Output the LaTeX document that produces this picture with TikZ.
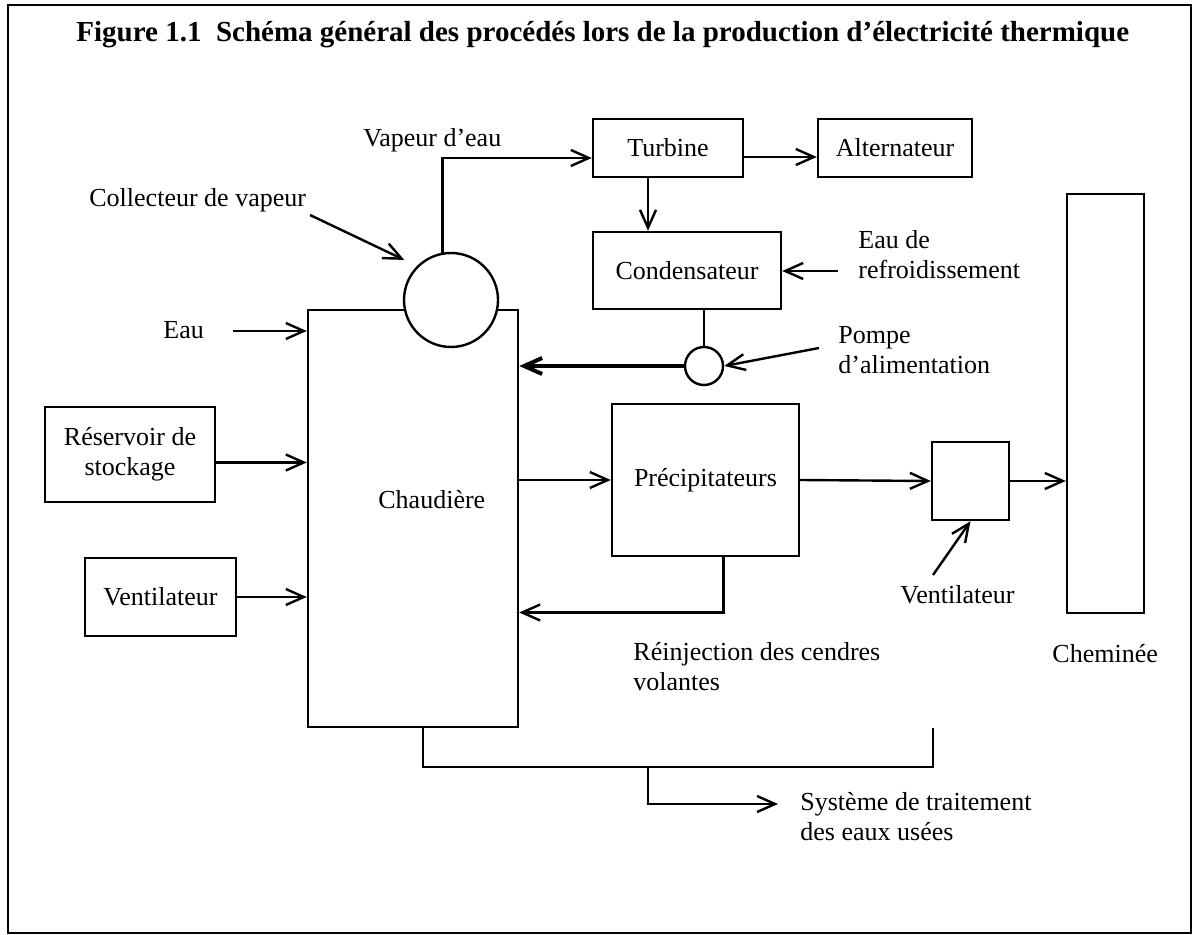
\documentclass[tikz,border=0pt]{standalone}
\usepackage{fontspec}
\setmainfont{Liberation Serif}
\usetikzlibrary{arrows.meta}
\tikzset{
  procbox/.style={draw, line width=1.2pt, inner sep=0pt, align=center,
                  font=\fontsize{13}{15}\selectfont},
  drum/.style={draw, circle, fill=white, line width=1.2pt, inner sep=0pt},
  note/.style={inner sep=0pt, align=left, font=\fontsize{13}{15}\selectfont},
  pipe/.style={line width=1.2pt},
  flow/.style={pipe, -{Straight Barb[length=9pt,width=8pt]}},
  heavyflow/.style={flow, line width=2pt},
}

\begin{document}
\begin{tikzpicture}[x=0.5pt, y=-0.5pt]
    \useasboundingbox (0,0) rectangle (1193,935);
    \draw[line width=0.6pt] (8,5) rectangle (1191,933);
    \node[anchor=base west, inner sep=0pt, font=\bfseries\fontsize{14.5}{16}\selectfont] (title) at (76,42)
      {Figure 1.1\ \ Schéma général des procédés lors de la production d’électricité thermique};

    \node[procbox, minimum width=75pt, minimum height=29pt] (turb) at (668,148) {Turbine};
    \node[procbox, minimum width=77pt, minimum height=29pt] (alt) at (895,148) {Alternateur};
    \node[procbox, minimum width=94pt, minimum height=38.5pt] (cond) at (687,270.5) {Condensateur};
    \node[procbox, minimum width=105pt, minimum height=208.5pt] (boil) at (413,518.5) {};
    \node[drum, minimum size=47pt] (coll) at (451,300) {};
    \node[drum, minimum size=19pt] (pump) at (704,366) {};
    \node[procbox, minimum width=85pt, minimum height=47.5pt] (res) at (130,454.5) {Réservoir de\\stockage};
    \node[procbox, minimum width=75.5pt, minimum height=39pt] (vent) at (160.5,597) {Ventilateur};
    \node[procbox, minimum width=93.5pt, minimum height=76pt] (prec) at (705.5,480) {Précipitateurs};
    \node[procbox, minimum width=38.5pt, minimum height=39pt] (fan) at (970.5,481) {};
    \node[procbox, minimum width=38.5pt, minimum height=209.5pt] (chem) at (1105.5,403.5) {};

    \node[note, anchor=base west] (boiltxt) at (378,508) {Chaudière};
    \node[note, anchor=base west] (vap) at (363,147) {Vapeur d’eau};
    \node[note, anchor=base west] (colltxt) at (89,207) {Collecteur de vapeur};
    \node[note, anchor=base west] (eau) at (163,339) {Eau};
    \node[note, anchor=north west] (cool) at (858,230) {Eau de\\refroidissement};
    \node[note, anchor=north west] (pumptxt) at (838,326) {Pompe\\d’alimentation};
    \node[note, anchor=base west] (fantxt) at (900,603) {Ventilateur};
    \node[note, anchor=base west] (chemtxt) at (1052,662) {Cheminée};
    \node[note, anchor=north west] (ash) at (633,642) {Réinjection des cendres\\volantes};
    \node[note, anchor=north west] (waste) at (800,792) {Système de traitement\\des eaux usées};

    \coordinate (ca) at (310,215);
    \coordinate (ea) at (233,331);
    \coordinate (cw) at (838,271);
    \coordinate (pa) at (819,348);
    \coordinate (fa) at (933,575);
    \coordinate (t0) at ([xshift=-10pt]turb.south);
    \coordinate (r0) at ([yshift=-4pt]res.east);
    \coordinate (p0) at ([xshift=9pt]prec.south);
    \coordinate (b0) at ([xshift=5pt]boil.south);
    \coordinate (j0) at (648,767);
    \coordinate (b1) at (933,728);
    \coordinate (ww) at (778,804);

    \draw[flow] (coll.100) |- ([yshift=-5pt]turb.west);
    \draw[flow] ([yshift=-4.5pt]turb.east) -- ([yshift=-4.5pt]alt.west);
    \draw[flow] (t0) -- (t0 |- cond.north);
    \draw[flow] (cw) -- (cw -| cond.east);
    \draw[pipe] (pump.north) -- (pump.north |- cond.south);
    \draw[heavyflow] (pump.west) -- (pump.west -| boil.east);
    \draw[flow] (pa) -- (pump.east);
    \draw[flow, shorten >=7pt] (ca) -- (coll.135);
    \draw[flow] (ea) -- (ea -| boil.west);
    \draw[flow] (r0) -- (r0 -| boil.west);
    \draw[flow] (vent.east) -- (vent.east -| boil.west);
    \draw[flow] (prec.west -| boil.east) -- (prec.west);
    \draw[flow] (p0) |- ([yshift=-47pt]boil.east);
    \draw[flow] (prec.east) -- (fan.west);
    \draw[flow] (fan.east) -- (fan.east -| chem.west);
    \draw[flow] (fa) -- (fan.south);
    \draw[pipe] (b0) |- (j0) -| (b1);
    \draw[flow] (j0) |- (ww);
\end{tikzpicture}
\end{document}
